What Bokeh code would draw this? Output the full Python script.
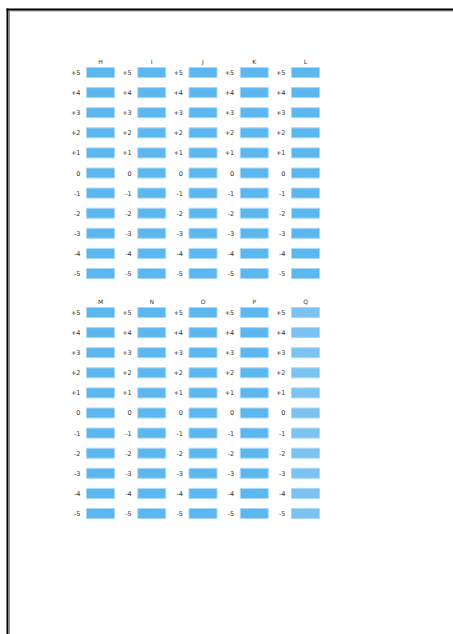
from bokeh.plotting import figure
from bokeh.models import ColumnDataSource, Range1d
from bokeh.embed import file_html
from bokeh.resources import INLINE
from bokeh.core.properties import value

# ---- data ----
top_columns = ["H", "I", "J", "K", "L"]
bottom_columns = ["M", "N", "O", "P", "Q"]
offset_labels = ["+5", "+4", "+3", "+2", "+1", "0", "-1", "-2", "-3", "-4", "-5"]
top_colors = ["#5db7ef", "#5db7ef", "#5db7ef", "#5db7ef", "#5db7ef"]
bottom_colors = ["#5db7ef", "#5db7ef", "#5db7ef", "#5db7ef", "#7cc3f2"]

# ---- layout constants (pixels) ----
W, H = 453, 634
COL_PX = 51.25
ROW_PX = 20.1
X0_PX = 100
Y0_PX = 72
GROUP_GAP = 11.94

groups = [(top_columns, top_colors, 0.0), (bottom_columns, bottom_colors, GROUP_GAP)]

bx, by, bc, lt = [], [], [], []
hx, hy, ht = [], [], []
for cols, colors, g in groups:
    for ci, (name, col) in enumerate(zip(cols, colors)):
        hx.append(ci); hy.append(g); ht.append(name)
        for ri, lab in enumerate(offset_labels):
            bx.append(ci); by.append(g + ri); bc.append(col); lt.append(lab)

bars = ColumnDataSource(dict(x=bx, y=by, color=bc, label=lt))
heads = ColumnDataSource(dict(x=hx, y=hy, text=ht))

def dx(px):
    return (px - X0_PX) / COL_PX

def dy(py):
    return (py - Y0_PX) / ROW_PX

p = figure(width=W, height=H, output_backend="svg", toolbar_location=None,
           min_border=0, x_axis_location=None, y_axis_location=None,
           x_range=Range1d(dx(0), dx(W)), y_range=Range1d(dy(H), dy(0)))
p.grid.visible = False
p.outline_line_color = None
p.background_fill_color = "white"
p.border_fill_color = "white"

# page border (top and left edges only), drawn as decoration
p.segment(x0=[dx(8.5), dx(9)], y0=[dy(10.5), dy(10.5)], x1=[dx(W + 5), dx(9)], y1=[dy(10.5), dy(H + 5)],
          line_color="#999999", line_width=1)
p.segment(x0=[dx(6), dx(7)], y0=[dy(9), dy(8)], x1=[dx(W + 5), dx(7)], y1=[dy(9), dy(H + 5)],
          line_color="black", line_width=2)

p.rect(x="x", y="y", width=28, height=10, width_units="screen", height_units="screen",
       source=bars, fill_color="color", line_color="#a8d7f6", line_width=1)

p.text(x="x", y="y", text="label", source=bars, x_offset=-20,
       text_align="right", text_baseline="middle", text_font_size="6.5px",
       text_color="#333333", text_font=value("DejaVu Sans"))

p.text(x="x", y="y", text="text", source=heads, y_offset=-11,
       text_align="center", text_baseline="middle", text_font_size="6px",
       text_color="#333333", text_font=value("DejaVu Sans"))

open("out.html", "w").write(file_html(p, INLINE))
